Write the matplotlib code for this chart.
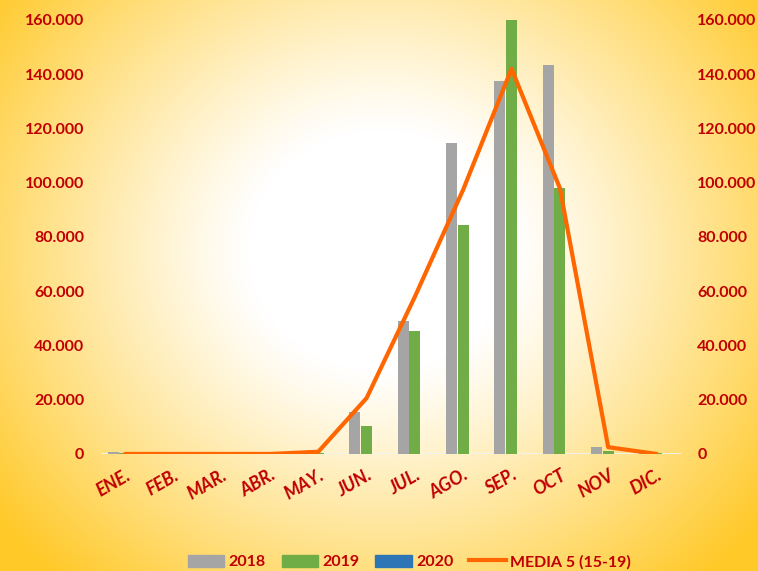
import matplotlib
matplotlib.use('Agg')

import numpy as np
import matplotlib.pyplot as plt
from matplotlib.colors import to_rgb
from matplotlib.lines import Line2D
from matplotlib.patches import Patch
from matplotlib.ticker import FuncFormatter

meses = ["ENE.", "FEB.", "MAR.", "ABR.", "MAY.", "JUN.", "JUL.",
         "AGO.", "SEP.", "OCT", "NOV", "DIC."]
v2018 = [600, 0, 0, 0, 400, 15500, 49000, 114500, 137500, 143500, 2600, 400]
v2019 = [300, 0, 0, 0, 300, 10300, 45300, 84500, 168000, 98000, 1000, 300]
v2020 = [0, 0, 0, 0, 0, 0, 0, 0, 0, 0, 0, 0]
media = [0, 0, 0, 0, 800, 20600, 58000, 97500, 142000, 98000, 2500, 0]

RED = "#C00000"
FONT = ["Lato", "DejaVu Sans"]
plt.rcParams['font.family'] = FONT

fig = plt.figure(figsize=(7.58, 5.71), dpi=100)

# radial yellow background
bg = fig.add_axes([0, 0, 1, 1], zorder=-10)
h, w = 571, 758
yy, xx = np.mgrid[0:h, 0:w]
d = np.sqrt(((xx - 380) / 440.0) ** 2 + ((yy - 250) / 400.0) ** 2)
t = np.clip((d - 0.3) / 0.8, 0, 1) ** 1.1
c0 = np.array([1.0, 1.0, 1.0])
c1 = np.array(to_rgb("#FFC928"))
img = c0[None, None, :] * (1 - t[..., None]) + c1[None, None, :] * t[..., None]
bg.imshow(img, aspect='auto', extent=[0, 1, 0, 1], origin='upper')
bg.axis('off')

ax = fig.add_axes([0.133, 0.205, 0.765, 0.760])
ax.patch.set_alpha(0)

x = np.arange(len(meses))
bw = 0.24
ax.bar(x - bw, v2018, bw * 0.95, color="#A5A5A5", zorder=2)
ax.bar(x, v2019, bw * 0.95, color="#70AD47", zorder=2)
ax.bar(x + bw, v2020, bw * 0.95, color="#2E75B6", zorder=2)
ax.axhline(0, color="#F2F2F2", lw=2, zorder=1)
ax.plot(x, media, color="#FF6600", lw=3, zorder=3, solid_capstyle='round')

ax.set_xlim(-0.5, 11.5)
ax.set_ylim(0, 160000)
ax.set_yticks(np.arange(0, 160001, 20000))
ax.yaxis.set_major_formatter(FuncFormatter(lambda v, p: f"{v:,.0f}".replace(",", ".")))
ax.tick_params(axis='y', length=0, labelright=True, pad=12,
               labelcolor=RED, labelsize=11.5)
for lab in ax.get_yticklabels():
    lab.set_fontweight('bold')
ax.set_xticks(x)
ax.set_xticklabels(meses, rotation=30, ha='right', rotation_mode='anchor',
                   fontsize=13, fontweight='bold', fontstyle='italic', color=RED)
ax.tick_params(axis='x', length=0, pad=9)
for s in ax.spines.values():
    s.set_visible(False)

handles = [Patch(color="#A5A5A5", label="2018"),
           Patch(color="#70AD47", label="2019"),
           Patch(color="#2E75B6", label="2020"),
           Line2D([0], [0], color="#FF6600", lw=3, label="MEDIA 5 (15-19)")]
leg = fig.legend(handles=handles, loc='center', bbox_to_anchor=(0.54, 0.016),
                 ncol=4, frameon=False, handlelength=2.3, handleheight=0.8,
                 columnspacing=1.0, handletextpad=0.25, borderpad=0,
                 prop={'weight': 'bold', 'size': 11.5})
for txt in leg.get_texts():
    txt.set_color(RED)

fig.savefig("out.png", dpi=100)
